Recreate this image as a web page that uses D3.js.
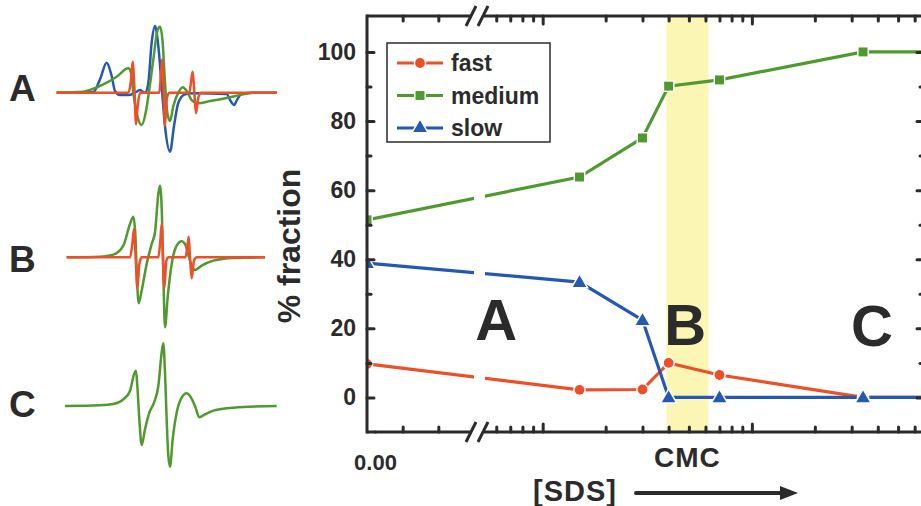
<!DOCTYPE html>
<html>
<head>
<meta charset="utf-8">
<script src="https://cdn.jsdelivr.net/npm/d3@7/dist/d3.min.js"></script>
<style>
  body { margin: 0; background: #fff; }
  svg { display: block; font-family: "Liberation Sans", Arial, sans-serif; font-weight: bold; }
</style>
</head>
<body>
<svg id="chart" width="921" height="506"></svg>
<script>
//SDS concentration (mM), first point sits on the linear part before the axis break
const conc = [0, 1.5, 3, 4, 7, 34, 80]
const fast = [9.7, 2.2, 2.3, 10, 6.5, 0, 0]
const medium = [51.4, 63.8, 75.1, 90.1, 91.9, 100, 100]
const slow = [38.9, 33.4, 22.4, 0, 0, 0, 0]
const seriesNames = ["fast", "medium", "slow"]
const cmcRange = [3.9, 6.2]
const yMajorTicks = [0, 20, 40, 60, 80, 100]
const yMinorTicks = [10, 30, 50, 70, 90]
const linTicks = [0.1, 0.2]
const logMajorTicks = [1, 10]
const logMinorTicks = [0.6, 0.7, 0.8, 0.9, 2, 3, 4, 5, 6, 7, 8, 9, 20, 30, 40, 50, 60]
//region letters placed in data units
const regionLabels = [{t: "A", x: 0.6, y: 16.6}, {t: "B", x: 4.8, y: 15.2}, {t: "C", x: 37.5, y: 14.9}]

//EPR spectra: [field, signal]
const specA_slow = [[170,0],[280,2],[300,40],[320,90],[335,50],[345,5],[360,-7],[385,-7],[405,0],[420,8],[435,0],[445,30],[455,150],[465,200],[475,140],[485,20],[495,-100],[510,-177],[522,-100],[535,-30],[555,-5],[580,-2],[680,-4],[692,-25],[702,-37],[712,-20],[725,-3],[760,0],[830,0]]
const specA_medium = [[170,0],[250,3],[280,12],[310,25],[350,48],[385,73],[393,60],[400,0],[412,-70],[425,-97],[437,-60],[448,10],[460,100],[472,185],[480,198],[488,150],[495,30],[502,-60],[510,-85],[520,-40],[535,0],[548,16],[560,5],[575,-22],[595,-32],[630,-25],[680,-16],[730,-5],[760,0],[830,0]]
const specA_fast = [[170,0],[385,0],[392,30],[398,93],[403,20],[408,-95],[413,-40],[420,0],[478,0],[483,60],[487,100],[491,0],[495,-100],[500,-20],[508,0],[568,0],[574,40],[578,63],[583,0],[588,-62],[594,-20],[602,0],[830,0]]
const specB_medium = [[200,0],[300,2],[340,8],[370,35],[390,100],[400,122],[406,70],[410,-40],[416,-138],[425,-100],[440,-20],[455,40],[465,75],[475,190],[480,215],[486,120],[490,-50],[495,-210],[503,-120],[515,-20],[530,35],[545,48],[555,40],[570,-10],[585,-38],[605,-25],[640,-10],[700,-2],[795,0]]
const specB_fast = [[200,0],[390,0],[397,40],[402,85],[407,0],[412,-93],[418,-20],[425,0],[475,0],[481,50],[485,100],[489,0],[493,-93],[499,-10],[506,0],[556,0],[562,30],[566,62],[570,0],[575,-63],[582,-10],[590,0],[795,0]]
const specC_medium = [[195,0],[300,2],[340,6],[370,20],[390,45],[402,95],[408,106],[412,60],[418,-40],[425,-117],[435,-70],[448,-20],[462,10],[475,60],[485,160],[490,188],[495,100],[500,-40],[505,-150],[510,-182],[518,-100],[530,-20],[545,25],[560,38],[570,30],[585,0],[598,-34],[610,-28],[640,-14],[700,-5],[830,0]]

const colors = {fast: "#ef4f26", medium: "#4e9a2e", slow: "#2558b3"}
const ink = "#2b2b2b"

const svg = d3.select("#chart")

//plot box
const plot = {left: 367, right: 924, top: 16, bottom: 432}
const breakGap = [474, 485]

//x is broken: linear part then log part
const xLin = d3.scaleLinear().domain([0, 0.3]).range([plot.left, breakGap[0]])
const xLog = d3.scaleLog().domain([0.53, 66.5]).range([breakGap[1], plot.right])
const xPos = v => v <= 0.3 ? xLin(v) : xLog(v)
const y = d3.scaleLinear().domain([-10, 110.4]).range([plot.bottom, plot.top])

svg.append("defs").append("clipPath").attr("id", "plotclip")
  .append("rect").attr("x", plot.left).attr("y", plot.top)
  .attr("width", plot.right - plot.left).attr("height", plot.bottom - plot.top)

//CMC band
svg.append("rect")
  .attr("x", xLog(cmcRange[0])).attr("y", plot.top + 2)
  .attr("width", xLog(cmcRange[1]) - xLog(cmcRange[0]))
  .attr("height", plot.bottom - plot.top - 3)
  .attr("fill", "#fcf4a8").attr("opacity", 0.85)

//series lines
const table = conc.map((c, i) => ({c: c, fast: fast[i], medium: medium[i], slow: slow[i]}))
const gData = svg.append("g").attr("clip-path", "url(#plotclip)")
const order = ["medium", "fast", "slow"]
order.forEach(key => {
  gData.append("path")
    .datum(table)
    .attr("fill", "none")
    .attr("stroke", colors[key])
    .attr("stroke-width", 3.2)
    .attr("d", d3.line().x(d => xPos(d.c)).y(d => y(d[key])))
})

//gap in the lines at the axis break
svg.append("rect")
  .attr("x", breakGap[0]).attr("y", plot.top + 3)
  .attr("width", breakGap[1] - breakGap[0]).attr("height", plot.bottom - plot.top - 6)
  .attr("fill", "#fff")

//markers, white rim leaves a small gap in the line
const sym = {fast: d3.symbolCircle, medium: d3.symbolSquare, slow: d3.symbolTriangle}
const symSize = {fast: 75, medium: 80, slow: 80}
order.forEach(key => {
  gData.selectAll(".m-" + key)
    .data(table)
    .join("path")
    .attr("class", "m-" + key)
    .attr("transform", d => `translate(${xPos(d.c)},${y(d[key]) + (key == "slow" ? 1 : 0)})`)
    .attr("d", d3.symbol().type(sym[key]).size(symSize[key]))
    .attr("fill", colors[key])
    .attr("stroke", "#fff").attr("stroke-width", 3).style("paint-order", "stroke")
})

//frame: left and right sides
const frame = svg.append("g").attr("stroke", ink).attr("stroke-width", 3).attr("fill", "none")
frame.append("line").attr("x1", plot.left).attr("x2", plot.left).attr("y1", plot.top - 1.5).attr("y2", plot.bottom + 1.5)
frame.append("line").attr("x1", plot.right).attr("x2", plot.right).attr("y1", plot.top - 1.5).attr("y2", plot.bottom + 1.5)
//top and bottom with the break
;[plot.top, plot.bottom].forEach(yy => {
  frame.append("line").attr("x1", plot.left).attr("x2", breakGap[0] - 2).attr("y1", yy).attr("y2", yy)
  frame.append("line").attr("x1", breakGap[1] - 1).attr("x2", plot.right).attr("y1", yy).attr("y2", yy)
  frame.append("line").attr("x1", breakGap[0] - 8).attr("x2", breakGap[0] + 2).attr("y1", yy + 10).attr("y2", yy - 10)
  frame.append("line").attr("x1", breakGap[1] - 7).attr("x2", breakGap[1] + 3).attr("y1", yy + 10).attr("y2", yy - 10)
})

//tick helper: axis without domain line, round caps
function ticks(gen, tx, ty) {
  const g = svg.append("g").attr("transform", `translate(${tx},${ty})`).call(gen)
  g.select(".domain").remove()
  g.selectAll(".tick line").attr("stroke", ink).attr("stroke-width", 3).attr("stroke-linecap", "round")
  g.selectAll(".tick text").attr("fill", ink)
  return g
}

//y ticks, inward on both sides
ticks(d3.axisLeft(y).tickValues(yMajorTicks).tickSize(-7).tickPadding(11).tickFormat(d3.format("d")), plot.left, 0)
  .selectAll("text").style("font-size", "23px").style("font-weight", "bold")
ticks(d3.axisLeft(y).tickValues(yMinorTicks).tickSize(-4).tickFormat(""), plot.left, 0)
ticks(d3.axisRight(y).tickValues(yMajorTicks).tickSize(-7).tickFormat(""), plot.right, 0)
ticks(d3.axisRight(y).tickValues(yMinorTicks).tickSize(-4).tickFormat(""), plot.right, 0)

//x ticks, bottom and top
ticks(d3.axisBottom(xLin).tickValues(linTicks).tickSize(-5).tickFormat(""), 0, plot.bottom)
ticks(d3.axisTop(xLin).tickValues(linTicks).tickSize(-5).tickFormat(""), 0, plot.top)
ticks(d3.axisBottom(xLog).tickValues(logMinorTicks).tickSize(-5).tickFormat(""), 0, plot.bottom)
ticks(d3.axisTop(xLog).tickValues(logMinorTicks).tickSize(-5).tickFormat(""), 0, plot.top)
ticks(d3.axisBottom(xLog).tickValues(logMajorTicks).tickSize(-8).tickFormat(""), 0, plot.bottom)
ticks(d3.axisTop(xLog).tickValues(logMajorTicks).tickSize(-8).tickFormat(""), 0, plot.top)
//only the zero gets a number
ticks(d3.axisBottom(xLin).tickValues([0]).tickSize(0).tickPadding(22).tickFormat(d3.format(".2f")), 8, plot.bottom)
  .selectAll("text").style("font-size", "22px").style("font-weight", "bold")

//CMC label under the band
svg.append("text")
  .attr("x", xLog(Math.sqrt(cmcRange[0] * cmcRange[1])))
  .attr("y", 467)
  .attr("text-anchor", "middle")
  .attr("fill", ink)
  .style("font-size", "28px")
  .style("letter-spacing", "1px")
  .text("CMC")

//x label and arrow
svg.append("text").attr("x", 533).attr("y", 501).attr("fill", ink)
  .style("font-size", "29px").style("letter-spacing", "1px").text("[SDS]")
svg.append("line").attr("x1", 636).attr("x2", 782).attr("y1", 493).attr("y2", 493)
  .attr("stroke", ink).attr("stroke-width", 4).attr("stroke-linecap", "round")
svg.append("path").attr("d", "M780,486 L798,493 L780,500 Z").attr("fill", ink)

//y label
svg.append("text")
  .attr("transform", `translate(300,${(plot.top + plot.bottom) / 2 + 22}) rotate(-90)`)
  .attr("text-anchor", "middle")
  .attr("fill", ink)
  .style("font-size", "32px")
  .text("% fraction")

//region letters
svg.selectAll(".region")
  .data(regionLabels)
  .join("text")
  .attr("class", "region")
  .attr("x", d => xLog(d.x)).attr("y", d => y(d.y))
  .attr("text-anchor", "middle")
  .attr("fill", ink)
  .style("font-size", "58px")
  .text(d => d.t)

//legend
const legend = svg.append("g").attr("transform", "translate(387,43)")
legend.append("rect").attr("width", 163).attr("height", 99)
  .attr("fill", "#fff").attr("stroke", ink).attr("stroke-width", 1.5)
seriesNames.forEach((key, i) => {
  const ly = 20 + i * 32.5
  legend.append("line").attr("x1", 10).attr("x2", 56).attr("y1", ly).attr("y2", ly)
    .attr("stroke", colors[key]).attr("stroke-width", 3.2)
  legend.append("path").attr("transform", `translate(33,${ly})`)
    .attr("d", d3.symbol().type(sym[key]).size(symSize[key]))
    .attr("fill", colors[key])
    .attr("stroke", "#fff").attr("stroke-width", 3).style("paint-order", "stroke")
  legend.append("text").attr("x", 64).attr("y", ly + 8).attr("fill", ink)
    .style("font-size", "23px").text(key)
})

//EPR spectra panels on the left
const specX = d3.scaleLinear().domain([0, 900]).range([0, 300])
const panels = [
  {label: "A", base: 92.7, lab: 101, traces: [["slow", specA_slow], ["medium", specA_medium], ["fast", specA_fast]]},
  {label: "B", base: 257.3, lab: 272, traces: [["medium", specB_medium], ["fast", specB_fast]]},
  {label: "C", base: 406, lab: 417, traces: [["medium", specC_medium]]}
]
panels.forEach(p => {
  const specY = d3.scaleLinear().domain([-300, 300]).range([p.base + 100, p.base - 100])
  const line = d3.line().x(d => specX(d[0])).y(d => specY(d[1])).curve(d3.curveMonotoneX)
  p.traces.forEach(tr => {
    svg.append("path").datum(tr[1])
      .attr("fill", "none")
      .attr("stroke", colors[tr[0]])
      .attr("stroke-width", 2.5)
      .attr("stroke-linejoin", "round")
      .attr("d", line)
  })
  svg.append("text").attr("x", 9).attr("y", p.lab).attr("fill", ink)
    .style("font-size", "37px").text(p.label)
})
</script>
</body>
</html>
